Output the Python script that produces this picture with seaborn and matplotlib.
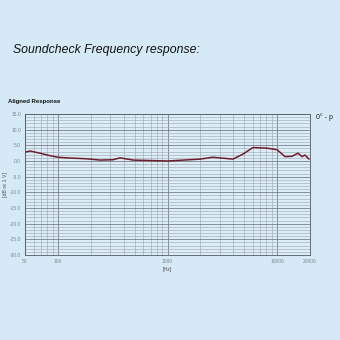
import matplotlib
matplotlib.use("Agg")
import matplotlib.pyplot as plt
import seaborn as sns
import pandas as pd
from matplotlib.ticker import FixedLocator, NullFormatter, LogLocator

freq_hz = [50, 55.5, 68.5, 84.6, 100, 121, 184, 242, 318, 368, 484, 1000,
           1981, 2600, 3960, 4890, 6035, 8100, 10000, 11830, 13700, 15540,
           16900, 18000, 19600]
level_db = [2.8, 3.2, 2.5, 1.7, 1.2, 1.0, 0.7, 0.3, 0.4, 1.0, 0.3, 0.0,
            0.6, 1.2, 0.6, 2.2, 4.3, 4.1, 3.6, 1.4, 1.5, 2.5, 1.4, 1.9, 0.6]
x_ticks = [50, 100, 1000, 10000, 20000]
x_tick_labels = ["50", "100", "1000", "10000", "20000"]
y_ticks = [15, 10, 5, 0, -5, -10, -15, -20, -25, -30]

df = pd.DataFrame({"freq": freq_hz, "level": level_db})

sns.set_style("white")
plt.rcParams['font.family'] = ['Liberation Sans', 'DejaVu Sans']

bg = "#d5e9f6"
fig = plt.figure(figsize=(3.4, 3.4), dpi=100, facecolor=bg)
ax = fig.add_axes([25/340, 1-255/340, 285/340, 141/340])
ax.set_facecolor("#dcedf8")

sns.lineplot(data=df, x="freq", y="level", ax=ax, color="#6e1e2a", linewidth=1.1)
ax.set_xscale("log")
ax.set_xlim(50, 20000)
ax.set_ylim(-30, 15)

ax.xaxis.set_major_locator(FixedLocator(x_ticks))
ax.set_xticklabels(x_tick_labels)
ax.xaxis.set_minor_locator(LogLocator(base=10, subs=range(2, 10), numticks=20))
ax.xaxis.set_minor_formatter(NullFormatter())
ax.set_yticks(y_ticks)
ax.set_yticklabels([f"{v:.1f}" for v in y_ticks])
ax.yaxis.set_minor_locator(FixedLocator(list(range(-30, 16))))

ax.grid(which="major", color="#6c7680", linewidth=0.55)
ax.grid(which="minor", color="#98a5ae", linewidth=0.4)
ax.tick_params(which="both", length=0, labelsize=3.5, labelcolor="#7d8890", pad=3)
for s in ax.spines.values():
    s.set_color("#555a60")
    s.set_linewidth(0.6)

ax.set_xlabel("[Hz]", fontsize=3.8, color="#555", labelpad=2)
ax.set_ylabel("[dB re 1 V]", fontsize=3.8, color="#555", labelpad=1)

fig.text(13/340, 1-50/340, "Soundcheck Frequency response:", fontsize=8.8,
         style="italic", color="#111", va="center", ha="left")
fig.text(8/340, 1-101/340, "Aligned Response", fontsize=4.3, weight="bold",
         color="#111", va="center", ha="left")
fig.text(316/340, 1-117/340, "0° - p", fontsize=5, color="#222",
         va="center", ha="left")

fig.savefig("out.png", dpi=100, facecolor=bg)
